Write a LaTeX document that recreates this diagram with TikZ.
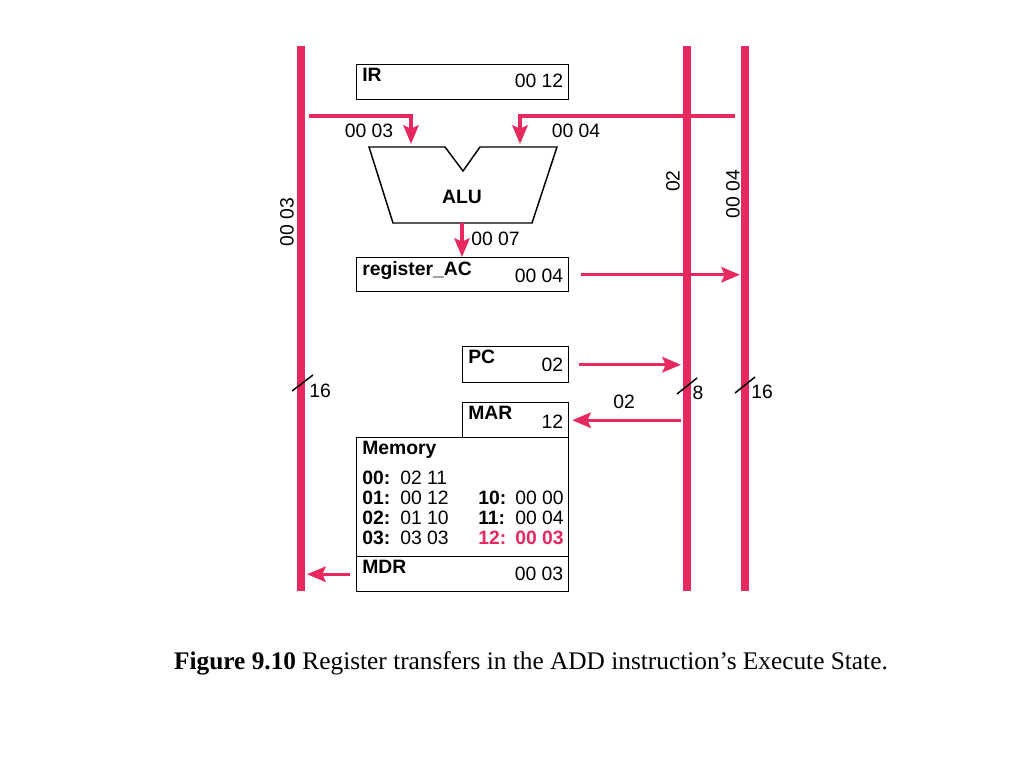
\documentclass[tikz,border=0pt]{standalone}
\usepackage{fontspec}
\setmainfont{Liberation Sans}
\newfontfamily\capfont{Liberation Serif}
\usetikzlibrary{positioning, arrows.meta, calc}

\definecolor{buspink}{RGB}{232,41,95}

\begin{document}
\begin{tikzpicture}[
    x=0.75pt, y=-0.75pt,
    font=\fontsize{14.5}{15}\selectfont,
    bus/.style={buspink, line width=5.6pt},
    xfer/.style={-{Stealth[length=14pt, width=11.5pt, inset=2.5pt]}, buspink, line width=2.6pt},
    reg/.style={draw=black, line width=1.1pt, anchor=north west, inner sep=0pt},
    tag/.style={font=\fontsize{14.5}{15}\selectfont\bfseries, anchor=north west, inner sep=0pt, xshift=4.5pt, yshift=-3pt},
    val/.style={anchor=east, inner sep=0pt, xshift=-4.5pt},
    width/.style={black, line width=1.1pt}
]
\useasboundingbox (0,0) rectangle (1024,768);

% Buses
\coordinate (busA top) at (301,46);  \coordinate (busA bot) at (301,591);
\coordinate (busB top) at (687,46);  \coordinate (busB bot) at (687,591);
\coordinate (busC top) at (745,46);  \coordinate (busC bot) at (745,591);
\draw[bus] (busA top) -- (busA bot);
\draw[bus] (busB top) -- (busB bot);
\draw[bus] (busC top) -- (busC bot);

\node[rotate=90] (busA val) at (287,222) {00 03};
\node[rotate=90] (busB val) at (673,181) {02};
\node[rotate=90] (busC val) at (733,194) {00 04};

% Bus widths
\draw[width] (292,391) -- (313,375);
\node (busA bits) at (320,391) {16};
\draw[width] (677,394) -- (697,378);
\node (busB bits) at (698,393) {8};
\draw[width] (735,393) -- (755,377);
\node (busC bits) at (762,392) {16};

% IR
\node[reg, minimum width=159pt, minimum height=26.25pt] (ir) at (356,64) {};
\node[tag] (ir tag) at (ir.north west) {IR};
\node[val, yshift=1pt] (ir val) at (ir.east) {00 12};

% ALU
\draw[black, line width=1.1pt] (369,147) -- (445,147) -- (463,171) -- (480,147)
    -- (557,147) -- (532,223) -- (393,223) -- cycle;
\node[font=\fontsize{14.5}{15}\selectfont\bfseries] (alu) at (462,197) {ALU};
\coordinate (alu in a) at (411,144);
\coordinate (alu in b) at (520,144);
\coordinate (alu out) at (462,223);

\coordinate (tap a) at (309,116);
\coordinate (tap b) at (735,116);
\draw[xfer] (tap a) -| (alu in a);
\draw[xfer] (tap b) -| (alu in b);
\node (in a) at (369,131) {00 03};
\node (in b) at (576,131) {00 04};

% register_AC
\node[reg, minimum width=159pt, minimum height=25.5pt] (ac) at (356,257) {};
\node[tag] (ac tag) at (ac.north west) {register\_AC};
\node[val, yshift=-0.5pt] (ac val) at (ac.east) {00 04};
\draw[xfer] (alu out) -- (ac.north -| alu out);
\node[anchor=west, inner sep=0pt] (alu res) at (471,239) {00 07};
\draw[xfer] ([xshift=9pt]ac.east) -- (ac.east -| 740,0);

% PC
\node[reg, minimum width=79.5pt, minimum height=27pt] (pc) at (462,346) {};
\node[tag] (pc tag) at (pc.north west) {PC};
\node[val] (pc val) at (pc.east) {02};
\draw[xfer] ([xshift=7pt]pc.east) -- (pc.east -| 681,0);

% MAR
\node[reg, minimum width=79.5pt, minimum height=26.25pt] (mar) at (462,402) {};
\node[tag] (mar tag) at (mar.north west) {MAR};
\node[val, yshift=-1pt] (mar val) at (mar.east) {12};
\draw[xfer] (mar.east -| 681,0) -- ([xshift=2pt]mar.east);
\node (mar bus) at (624,402) {02};

% Memory
\node[reg, minimum width=159pt, minimum height=89.25pt] (mem) at (356,437) {};
\node[tag] (mem tag) at (mem.north west) {Memory};
\node[anchor=north west, inner sep=0pt, align=left] (mem words) at (362,471)
    {\makebox[28.5pt][l]{\bfseries 00:}\makebox[58.5pt][l]{02 11}\\
     \makebox[28.5pt][l]{\bfseries 01:}\makebox[58.5pt][l]{00 12}\makebox[27.75pt][l]{\bfseries 10:}00 00\\
     \makebox[28.5pt][l]{\bfseries 02:}\makebox[58.5pt][l]{01 10}\makebox[27.75pt][l]{\bfseries 11:}00 04\\
     \makebox[28.5pt][l]{\bfseries 03:}\makebox[58.5pt][l]{03 03}{\color{buspink}\bfseries\makebox[27.75pt][l]{12:}00 03}};

% MDR
\node[reg, minimum width=159pt, minimum height=26.25pt] (mdr) at (356,556) {};
\node[tag] (mdr tag) at (mdr.north west) {MDR};
\node[val] (mdr val) at (mdr.east) {00 03};
\draw[xfer] ([xshift=-4.5pt]mdr.west) -- (mdr.west -| 307,0);

% Caption
\node[font=\capfont\fontsize{19}{22}\selectfont] (caption) at (531,663)
    {\textbf{Figure 9.10} Register transfers in the ADD instruction’s Execute State.};

\end{tikzpicture}
\end{document}
